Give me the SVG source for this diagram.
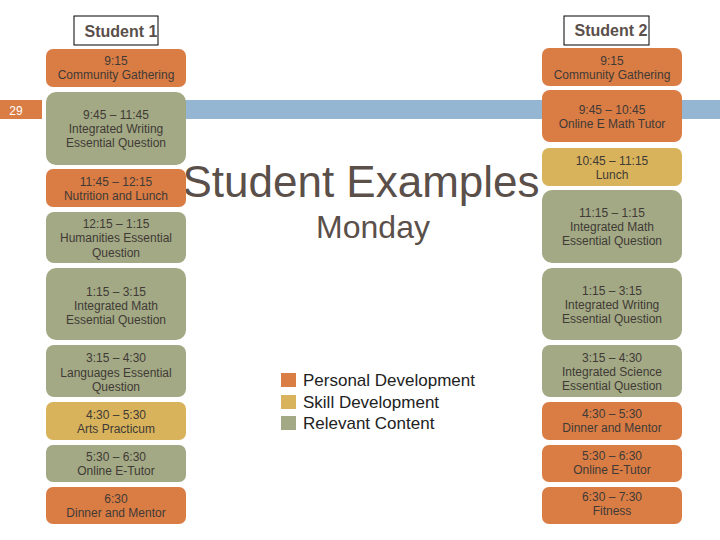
<svg xmlns="http://www.w3.org/2000/svg" width="720" height="540" viewBox="0 0 720 540">
<style>
.o{fill:#DA7D45}.g{fill:#A3A984}.y{fill:#D8B35C}
.t{font-family:"Liberation Sans",Arial,sans-serif;font-size:12px;fill:#3f3a36;text-anchor:middle}
.h{font-family:"Liberation Sans",Arial,sans-serif;font-size:16px;font-weight:bold;fill:#5a4f4a;text-anchor:middle}
.l{font-family:"Liberation Sans",Arial,sans-serif;font-size:17px;fill:#222}
</style>
<rect width="720" height="540" fill="#fff"/>
<rect x="185" y="100" width="535" height="19" fill="#94B6D3"/>
<rect x="0" y="100" width="42" height="19" fill="#DA7D45"/>
<text x="16" y="115" font-family="Liberation Sans,Arial,sans-serif" font-size="12" fill="#fff" text-anchor="middle">29</text>
<g id="s1"><rect x="74" y="16" width="84" height="29" fill="#fff" stroke="#000"/><text class="h" x="121" y="37">Student 1</text></g>
<g id="s2"><rect x="564" y="16" width="85" height="29" fill="#fff" stroke="#000"/><text class="h" x="611" y="36">Student 2</text></g>
<text x="361" y="197" font-family="Liberation Sans,Arial,sans-serif" font-size="44" fill="#5b4f4a" text-anchor="middle">Student Examples</text>
<text x="373" y="238" font-family="Liberation Sans,Arial,sans-serif" font-size="32" fill="#5b4f4a" text-anchor="middle">Monday</text>
<g id="legend">
<rect class="o" x="281" y="373" width="15" height="14"/><text class="l" x="303" y="386">Personal Development</text>
<rect class="y" x="281" y="395" width="15" height="14"/><text class="l" x="303" y="408">Skill Development</text>
<rect class="g" x="281" y="416" width="15" height="14"/><text class="l" x="303" y="429">Relevant Content</text>
</g>
<g id="L1"><rect class="o" x="46" y="49" width="140" height="38" rx="7"/><text class="t" x="116" y="65">9:15</text><text class="t" x="116" y="79">Community Gathering</text></g>
<g id="L2"><rect class="g" x="46" y="92" width="140" height="73" rx="10"/><text class="t" x="116" y="119">9:45 – 11:45</text><text class="t" x="116" y="133">Integrated Writing</text><text class="t" x="116" y="147">Essential Question</text></g>
<g id="L3"><rect class="o" x="46" y="169" width="140" height="38" rx="7"/><text class="t" x="116" y="186">11:45 – 12:15</text><text class="t" x="116" y="200">Nutrition and Lunch</text></g>
<g id="L4"><rect class="g" x="46" y="212" width="140" height="51" rx="8"/><text class="t" x="116" y="228">12:15 – 1:15</text><text class="t" x="116" y="242">Humanities  Essential</text><text class="t" x="116" y="257">Question</text></g>
<g id="L5"><rect class="g" x="46" y="268" width="140" height="72" rx="10"/><text class="t" x="116" y="296">1:15 – 3:15</text><text class="t" x="116" y="310">Integrated Math</text><text class="t" x="116" y="324">Essential Question</text></g>
<g id="L6"><rect class="g" x="46" y="345" width="140" height="52" rx="8"/><text class="t" x="116" y="362">3:15 – 4:30</text><text class="t" x="116" y="377">Languages Essential</text><text class="t" x="116" y="391">Question</text></g>
<g id="L7"><rect class="y" x="46" y="402" width="140" height="38" rx="7"/><text class="t" x="116" y="419">4:30 – 5:30</text><text class="t" x="116" y="433">Arts Practicum</text></g>
<g id="L8"><rect class="g" x="46" y="445" width="140" height="37" rx="7"/><text class="t" x="116" y="461">5:30 – 6:30</text><text class="t" x="116" y="475">Online E-Tutor</text></g>
<g id="L9"><rect class="o" x="46" y="487" width="140" height="37" rx="7"/><text class="t" x="116" y="503">6:30</text><text class="t" x="116" y="517">Dinner and Mentor</text></g>
<g id="R1"><rect class="o" x="542" y="48" width="140" height="38" rx="7"/><text class="t" x="612" y="65">9:15</text><text class="t" x="612" y="79">Community Gathering</text></g>
<g id="R2"><rect class="o" x="542" y="90" width="140" height="52" rx="8"/><text class="t" x="612" y="114">9:45 – 10:45</text><text class="t" x="612" y="128">Online E Math Tutor</text></g>
<g id="R3"><rect class="y" x="542" y="148" width="140" height="38" rx="7"/><text class="t" x="612" y="165">10:45 – 11:15</text><text class="t" x="612" y="179">Lunch</text></g>
<g id="R4"><rect class="g" x="542" y="190" width="140" height="73" rx="10"/><text class="t" x="612" y="217">11:15 – 1:15</text><text class="t" x="612" y="231">Integrated Math</text><text class="t" x="612" y="245">Essential Question</text></g>
<g id="R5"><rect class="g" x="542" y="268" width="140" height="72" rx="10"/><text class="t" x="612" y="295">1:15 – 3:15</text><text class="t" x="612" y="309">Integrated Writing</text><text class="t" x="612" y="323">Essential Question</text></g>
<g id="R6"><rect class="g" x="542" y="345" width="140" height="52" rx="8"/><text class="t" x="612" y="362">3:15 – 4:30</text><text class="t" x="612" y="376">Integrated Science</text><text class="t" x="612" y="390">Essential Question</text></g>
<g id="R7"><rect class="o" x="542" y="402" width="140" height="38" rx="7"/><text class="t" x="612" y="418">4:30 – 5:30</text><text class="t" x="612" y="432">Dinner and Mentor</text></g>
<g id="R8"><rect class="o" x="542" y="445" width="140" height="37" rx="7"/><text class="t" x="612" y="460">5:30 – 6:30</text><text class="t" x="612" y="474">Online E-Tutor</text></g>
<g id="R9"><rect class="o" x="542" y="487" width="140" height="37" rx="7"/><text class="t" x="612" y="501">6:30 – 7:30</text><text class="t" x="612" y="515">Fitness</text></g>
<g id="connectors"/>
</svg>
